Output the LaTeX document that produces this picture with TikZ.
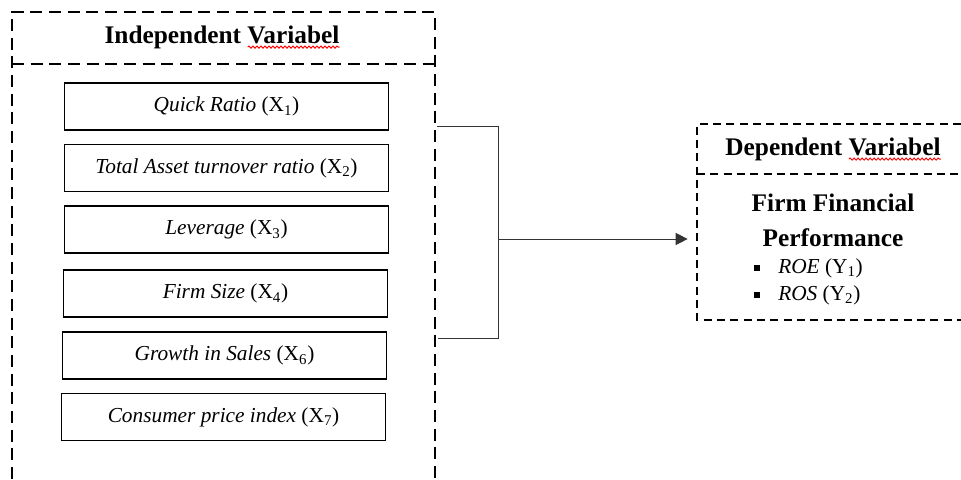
\documentclass[tikz,border=0pt]{standalone}
\usepackage{fontspec}
\setmainfont{Liberation Serif}
\usetikzlibrary{arrows.meta,decorations.pathmorphing}
\newlength\wordwd
\settowidth{\wordwd}{\fontsize{19}{26}\selectfont\bfseries Variabel}

\begin{document}
\begin{tikzpicture}
            [x=0.75pt, y=-0.75pt, font=\fontsize{16}{19}\selectfont,
             varbox/.style={draw, line width=1.2pt, minimum width=243pt, minimum height=35pt},
             outerdash/.style={dash pattern=on 9pt off 5pt, line width=1.3pt},
             innerdash/.style={dash pattern=on 6pt off 4pt, line width=1.1pt},
             heading/.style={font=\fontsize{19}{26}\selectfont\bfseries, inner sep=0pt},
             bracket/.style={line width=0.7pt, draw=black!80},
             wavy/.style={draw=red, line width=0.7pt, decorate,
                          decoration={snake, amplitude=0.8pt, segment length=3pt}}]
            \useasboundingbox (0,0) rectangle (961,479);
            % independent block
            \draw[outerdash] (12,479) -- (12,12) -- (435,12) -- (435,479);
            \draw[outerdash] (12,64) -- (435,64);
            \node[heading] (indep) at (222,37) {Independent Variabel};
            \path[wavy] ([xshift=-\wordwd, yshift=-3pt]indep.base east) -- ([yshift=-3pt]indep.base east);
            \node[varbox] (x1) at (226.5,106.5) {\textit{Quick Ratio} (X\textsubscript{1})};
            \node[varbox] (x2) at (226.5,168) {\textit{Total Asset turnover ratio} (X\textsubscript{2})};
            \node[varbox] (x3) at (226.5,229.5) {\textit{Leverage} (X\textsubscript{3})};
            \node[varbox] (x4) at (225.5,293.5) {\textit{Firm Size} (X\textsubscript{4})};
            \node[varbox] (x6) at (224.5,355.5) {\textit{Growth in Sales} (X\textsubscript{6})};
            \node[varbox] (x7) at (223.5,417) {\textit{Consumer price index} (X\textsubscript{7})};
            % bracket and arrow
            \coordinate (top) at (437,126);
            \coordinate (bot) at (438,338);
            \coordinate (mid) at (498,239);
            \coordinate (depin) at (697,239);
            \draw[bracket] (top) -- (top -| mid) -- (bot -| mid) -- (bot);
            \draw[bracket, -{Triangle[length=9pt, width=9pt]}, shorten >=7pt] (mid) -- (depin);
            % dependent block
            \draw[innerdash] (961,124) -- (697,124) -- (697,320) -- (961,320);
            \draw[innerdash, line width=0.9pt] (697,174) -- (961,174);
            \node[heading] (dep) at (833,149) {Dependent Variabel};
            \path[wavy] ([xshift=-\wordwd, yshift=-3pt]dep.base east) -- ([yshift=-3pt]dep.base east);
            \node[heading, align=center] (perf) at (833,220) {Firm Financial\\Performance};
            \node[anchor=west, inner sep=0pt] (roe) at (754,268) {\rule[1.5pt]{4.5pt}{4.5pt}\hspace{13.5pt}\textit{ROE} (Y\textsubscript{1})};
            \node[anchor=west, inner sep=0pt] (ros) at (754,295) {\rule[1.5pt]{4.5pt}{4.5pt}\hspace{13.5pt}\textit{ROS} (Y\textsubscript{2})};
        \end{tikzpicture}
\end{document}
